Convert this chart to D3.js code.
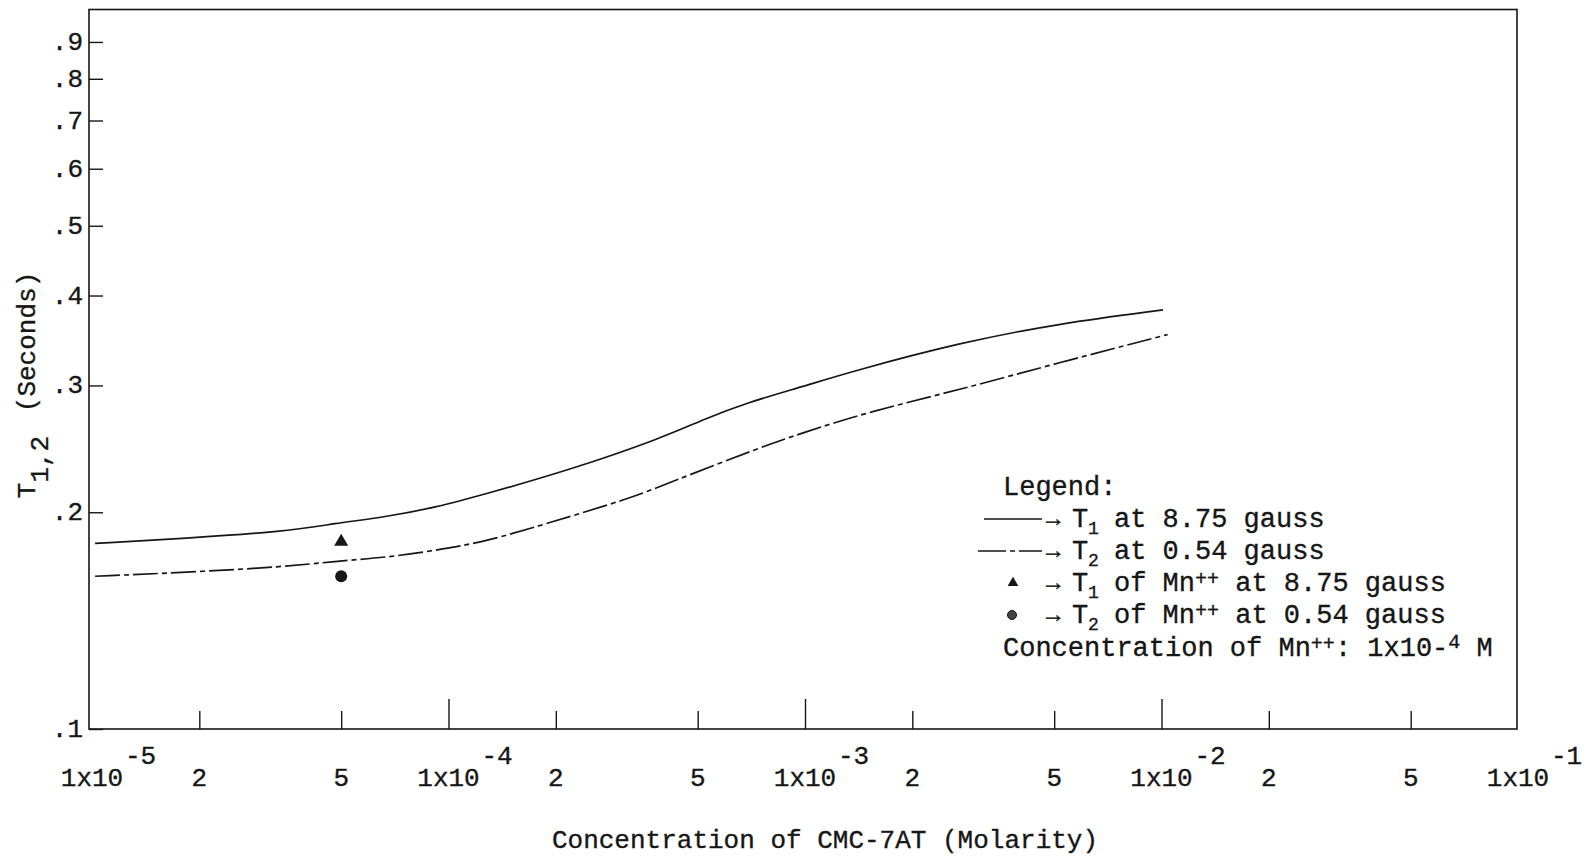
<!DOCTYPE html>
<html>
<head>
<meta charset="utf-8">
<script src="https://cdn.jsdelivr.net/npm/d3@7"></script>
<style>
body { margin: 0; background: #fff; }
text { font-family: "Liberation Mono", "Courier New", monospace; fill: #161616; stroke: #161616; stroke-width: 0.35px; }
</style>
</head>
<body>
<div class="demo"></div>
<script>
// T1 curve (8.75 gauss)
var concT1 = [1.02e-5, 1.82e-5, 3.48e-5, 4.8e-5, 6.64e-5, 9.17e-5, 1.27e-4, 2.19e-4, 4.0e-4, 5.17e-4, 6.88e-4, 9.87e-4, 1.36e-3, 2.72e-3, 5.19e-3, 1.01e-2];
var t1Values = [0.181, 0.184, 0.188, 0.193, 0.197, 0.203, 0.212, 0.229, 0.254, 0.269, 0.284, 0.299, 0.314, 0.344, 0.366, 0.382];
// T2 curve (0.54 gauss)
var concT2 = [1.02e-5, 1.82e-5, 3.48e-5, 4.8e-5, 6.64e-5, 9.17e-5, 1.27e-4, 1.89e-4, 3.23e-4, 4.18e-4, 7.48e-4, 9.87e-4, 1.52e-3, 2.72e-3, 5.19e-3, 1.04e-2];
var t2Values = [0.163, 0.165, 0.168, 0.171, 0.173, 0.177, 0.182, 0.193, 0.209, 0.220, 0.246, 0.258, 0.276, 0.296, 0.323, 0.353];
// Mn++ points
var mnConc = [5e-5];
var mnT1 = [0.182];
var mnT2 = [0.163];

var xTickValues = [2e-5, 5e-5, 1e-4, 2e-4, 5e-4, 1e-3, 2e-3, 5e-3, 1e-2, 2e-2, 5e-2];
var xLabelValues = [1e-5, 2e-5, 5e-5, 1e-4, 2e-4, 5e-4, 1e-3, 2e-3, 5e-3, 1e-2, 2e-2, 5e-2, 1e-1];
var xLabelTexts = ['1x10', '2', '5', '1x10', '2', '5', '1x10', '2', '5', '1x10', '2', '5', '1x10'];
var xLabelExps = ['-5', '', '', '-4', '', '', '-3', '', '', '-2', '', '', '-1'];
var yTickValues = [0.1, 0.2, 0.3, 0.4, 0.5, 0.6, 0.7, 0.8, 0.9];
var yTickLabels = ['.1', '.2', '.3', '.4', '.5', '.6', '.7', '.8', '.9'];

var w = 1587, h = 857;
var svg = d3.select('.demo').append('svg').attr('width', w).attr('height', h);

var xScale = d3.scaleLog().domain([1e-5, 1e-1]).range([92, 1518]);
var yScale = d3.scaleLog().domain([0.1, 1]).range([729, 9]);
var ink = '#161616';

// frame
svg.append('rect')
	.attr('x', 89).attr('y', 9.5)
	.attr('width', 1517 - 89).attr('height', 729 - 9.5)
	.attr('fill', 'none').attr('stroke', ink).attr('stroke-width', 1.6);

// y ticks point inward, x ticks point up
var yAxis = d3.axisRight(yScale).tickValues(yTickValues).tickSize(14).tickFormat('');
var yg = svg.append('g').attr('transform', 'translate(89,0)').call(yAxis);
yg.select('.domain').remove();
yg.selectAll('line').attr('stroke', ink).attr('stroke-width', 1.4);

var xAxis = d3.axisTop(xScale).tickValues(xTickValues)
	.tickSize(18).tickFormat('');
var xg = svg.append('g').attr('transform', 'translate(0,729)').call(xAxis);
xg.select('.domain').remove();
xg.selectAll('line')
	.attr('stroke', ink).attr('stroke-width', 1.4)
	.attr('y2', function(d){ return (Math.abs(Math.log10(d) - Math.round(Math.log10(d))) < 1e-6) ? -30 : -18; });

svg.append('g').selectAll('text').data(yTickValues).enter()
	.append('text')
	.text(function(d, i){ return yTickLabels[i]; })
	.attr('x', 83)
	.attr('y', function(d){ return yScale(d) + 8; })
	.attr('text-anchor', 'end')
	.attr('font-size', '26px');

// x labels with exponent
var xl = svg.append('g').selectAll('g').data(xLabelValues).enter().append('g');
xl.append('text')
	.text(function(d, i){ return xLabelTexts[i]; })
	.attr('x', function(d){ return xScale(d); })
	.attr('y', 786)
	.attr('text-anchor', 'middle')
	.attr('font-size', '26px');
xl.append('text')
	.text(function(d, i){ return xLabelExps[i]; })
	.attr('x', function(d){ return xScale(d) + 33; })
	.attr('y', 764)
	.attr('font-size', '26px');

svg.append('text')
	.text('Concentration of CMC-7AT (Molarity)')
	.attr('x', 825).attr('y', 848)
	.attr('text-anchor', 'middle')
	.attr('font-size', '26px');

// y title, rotated
var yt = svg.append('text')
	.attr('transform', 'translate(35,385) rotate(-90)')
	.attr('text-anchor', 'middle')
	.attr('font-size', '26px');
yt.append('tspan').text('T');
yt.append('tspan').text('1,2').attr('dy', 13);
yt.append('tspan').text(' (Seconds)').attr('dy', -13).attr('dx', 8);

// curves
var line = d3.line()
	.x(function(d){ return xScale(d[0]); })
	.y(function(d){ return yScale(d[1]); })
	.curve(d3.curveBasis);

svg.append('path')
	.attr('d', line(d3.zip(concT1, t1Values)))
	.attr('fill', 'none').attr('stroke', ink).attr('stroke-width', 1.7);

svg.append('path')
	.attr('d', line(d3.zip(concT2, t2Values)))
	.attr('fill', 'none').attr('stroke', ink).attr('stroke-width', 1.7)
	.attr('stroke-dasharray', '25,4,5,4');

var tri = d3.symbol().type(d3.symbolTriangle);
svg.selectAll('.mn1').data(mnConc).enter()
	.append('path')
	.attr('d', tri.size(85)())
	.attr('transform', function(d, i){ return 'translate(' + xScale(d) + ',' + yScale(mnT1[i]) + ')'; })
	.attr('fill', ink);
svg.selectAll('.mn2').data(mnConc).enter()
	.append('circle')
	.attr('cx', function(d){ return xScale(d); })
	.attr('cy', function(d, i){ return yScale(mnT2[i]); })
	.attr('r', 6)
	.attr('fill', ink);

// legend
var lg = svg.append('g');
var rowY = [495, 527, 559, 591, 623, 656];
lg.append('text').text('Legend:').attr('x', 1003).attr('y', rowY[0]).attr('font-size', '27px');

lg.append('line').attr('x1', 984).attr('x2', 1042).attr('y1', rowY[1] - 8).attr('y2', rowY[1] - 8)
	.attr('stroke', ink).attr('stroke-width', 1.5);
lg.append('line').attr('x1', 978).attr('x2', 1042).attr('y1', rowY[2] - 8).attr('y2', rowY[2] - 8)
	.attr('stroke', ink).attr('stroke-width', 1.5).attr('stroke-dasharray', '28,4,5,4');
lg.append('path').attr('d', tri.size(50)())
	.attr('transform', 'translate(1013,' + (rowY[3] - 8) + ')').attr('fill', ink);
lg.append('circle').attr('cx', 1012).attr('cy', rowY[4] - 8).attr('r', 4.5)
	.attr('fill', '#444').attr('stroke', ink).attr('stroke-width', 1);

var rows = [
	{sub: '1', pre: 'at 8.75 gauss', sup: '', post: ''},
	{sub: '2', pre: 'at 0.54 gauss', sup: '', post: ''},
	{sub: '1', pre: 'of Mn', sup: '++', post: ' at 8.75 gauss'},
	{sub: '2', pre: 'of Mn', sup: '++', post: ' at 0.54 gauss'}
];
rows.forEach(function(r, i){
	var y = rowY[i + 1];
	lg.append('text').text('→').attr('x', 1046).attr('y', y - 1).attr('font-size', '24px');
	lg.append('text').text('T').attr('x', 1072).attr('y', y).attr('font-size', '27px');
	lg.append('text').text(r.sub).attr('x', 1088).attr('y', y + 7).attr('font-size', '18px');
	var t = lg.append('text').attr('x', 1114).attr('y', y).attr('font-size', '27px');
	t.append('tspan').text(r.pre);
	if (r.sup) {
		t.append('tspan').text(r.sup).attr('dy', -6).attr('font-size', '20px');
		t.append('tspan').text(r.post).attr('dy', 6);
	}
});

var ct = lg.append('text').attr('x', 1003).attr('y', rowY[5]).attr('font-size', '27px');
ct.append('tspan').text('Concentration of Mn');
ct.append('tspan').text('++').attr('dy', -6).attr('font-size', '20px');
ct.append('tspan').text(': 1x10-').attr('dy', 6);
ct.append('tspan').text('4').attr('dy', -8).attr('font-size', '20px');
ct.append('tspan').text(' M').attr('dy', 8);
</script>
</body>
</html>
